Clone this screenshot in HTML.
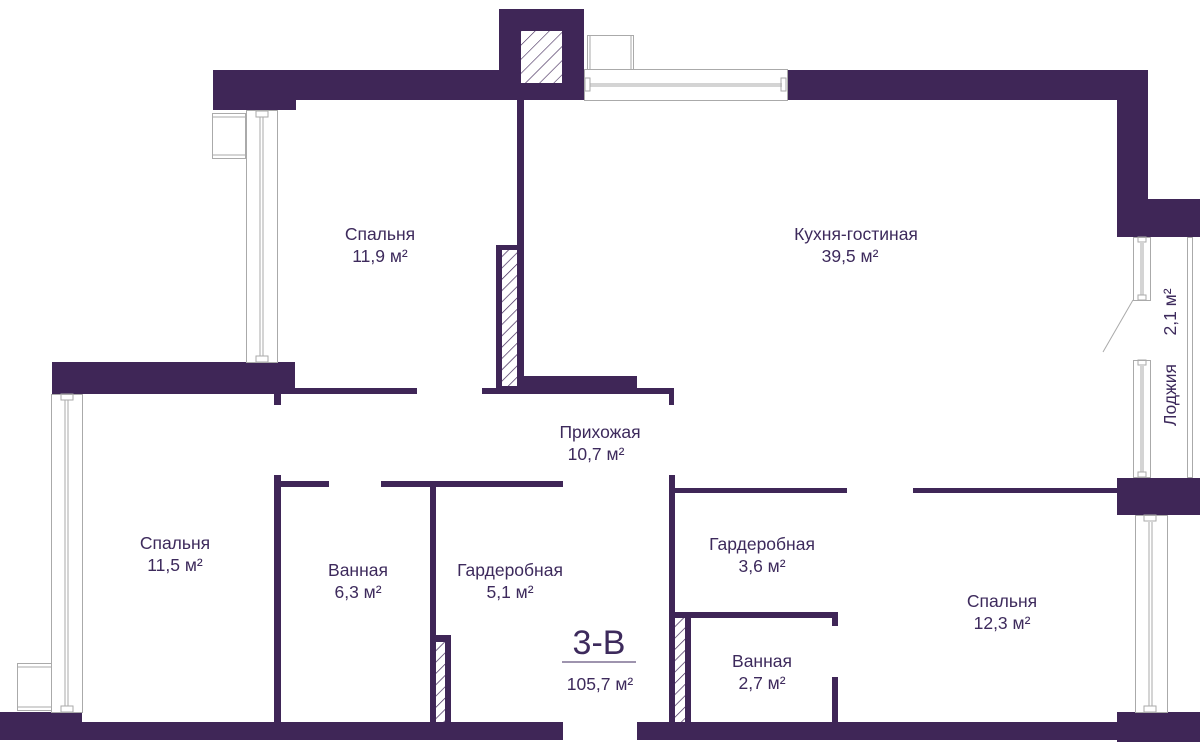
<!DOCTYPE html>
<html><head><meta charset="utf-8"><style>
html,body{margin:0;padding:0;background:#fff;}
svg{display:block}
text{font-family:"Liberation Sans","DejaVu Sans",sans-serif;fill:#3d2a5c;}
</style></head><body>
<svg width="1200" height="750" viewBox="0 0 1200 750" xmlns="http://www.w3.org/2000/svg">
<defs>
<pattern id="h" width="8" height="8" patternUnits="userSpaceOnUse" patternTransform="rotate(45)">
<rect width="8" height="8" fill="#fff"/><line x1="0" y1="0" x2="0" y2="8" stroke="#3f2657" stroke-width="1.4"/>
</pattern>
<pattern id="h2" width="10" height="10" patternUnits="userSpaceOnUse" patternTransform="rotate(45)">
<rect width="10" height="10" fill="#fff"/><line x1="0" y1="0" x2="0" y2="10" stroke="#3f2657" stroke-width="1.2"/>
</pattern>
</defs>
<g fill="#3f2657">
<rect x="213" y="70" width="83" height="40"/>
<rect x="213" y="70" width="290" height="30"/>
<rect x="499" y="9" width="85" height="91"/>
<rect x="787" y="70" width="358" height="30"/>
<rect x="1117" y="70" width="31" height="167"/>
<rect x="1117" y="199" width="83" height="38"/>
<rect x="1117" y="478" width="83" height="37"/>
<rect x="1117" y="712" width="83" height="30"/>
<rect x="0" y="712" width="82" height="28"/>
<rect x="82" y="722" width="481" height="18"/>
<rect x="637" y="722" width="480" height="18"/>
<rect x="52" y="362" width="243" height="32"/>
<rect x="517" y="100" width="7" height="288"/>
<rect x="496" y="245" width="22" height="143"/>
<rect x="523" y="376" width="114" height="12"/>
<rect x="295" y="388" width="122" height="6"/>
<rect x="482" y="388" width="192" height="6"/>
<rect x="669" y="388" width="5" height="17"/>
<rect x="274" y="388" width="7" height="17"/>
<rect x="274" y="475" width="7" height="247"/>
<rect x="274" y="481" width="55" height="6"/>
<rect x="381" y="481" width="182" height="6"/>
<rect x="430" y="481" width="6" height="241"/>
<rect x="430" y="635" width="21" height="87"/>
<rect x="669" y="475" width="6" height="247"/>
<rect x="669" y="488" width="178" height="5"/>
<rect x="913" y="488" width="204" height="5"/>
<rect x="669" y="612" width="169" height="6"/>
<rect x="832" y="612" width="6" height="14"/>
<rect x="832" y="677" width="6" height="45"/>
<rect x="669" y="612" width="22" height="110"/>
</g>
<rect x="521" y="31" width="41" height="52" fill="url(#h2)"/>
<rect x="502" y="250" width="15" height="136" fill="url(#h)"/>
<rect x="436" y="642" width="9" height="80" fill="url(#h)"/>
<rect x="675" y="618" width="10" height="104" fill="url(#h)"/>
<g fill="none" stroke="#aaa" stroke-width="1">
<rect x="584.5" y="69.5" width="203" height="31"/>
<line x1="590" y1="84" x2="782" y2="84"/><line x1="590" y1="86" x2="782" y2="86"/>
<rect x="585" y="78" width="5" height="13"/><rect x="781" y="78" width="5" height="13"/>
<rect x="587.5" y="35.5" width="46" height="34"/>
<line x1="590" y1="36" x2="590" y2="69"/><line x1="631" y1="36" x2="631" y2="69"/>
<rect x="246.5" y="110.5" width="31" height="252"/>
<line x1="260" y1="117" x2="260" y2="356"/><line x1="263" y1="117" x2="263" y2="356"/>
<rect x="256" y="111" width="12" height="6"/><rect x="256" y="356" width="12" height="6"/>
<rect x="212.5" y="113.5" width="33" height="45"/>
<line x1="213" y1="117" x2="245" y2="117"/><line x1="213" y1="155" x2="245" y2="155"/>
<rect x="51.5" y="394.5" width="31" height="318"/>
<line x1="65" y1="400" x2="65" y2="706"/><line x1="68" y1="400" x2="68" y2="706"/>
<rect x="61" y="394" width="12" height="6"/><rect x="61" y="706" width="12" height="6"/>
<rect x="17.5" y="663.5" width="34" height="47"/>
<line x1="18" y1="667" x2="51" y2="667"/><line x1="18" y1="707" x2="51" y2="707"/>
<rect x="1133.5" y="237.5" width="17" height="63"/>
<line x1="1141" y1="243" x2="1141" y2="295"/><line x1="1143" y1="243" x2="1143" y2="295"/>
<rect x="1138" y="295" width="8" height="5"/><rect x="1138" y="237" width="8" height="5"/>
<rect x="1133.5" y="360.5" width="17" height="117"/>
<line x1="1141" y1="366" x2="1141" y2="472"/><line x1="1143" y1="366" x2="1143" y2="472"/>
<rect x="1138" y="360" width="8" height="5"/><rect x="1138" y="472" width="8" height="5"/>
<rect x="1187.5" y="237.5" width="5" height="240"/>
<line x1="1133" y1="300" x2="1103" y2="352"/>
<rect x="1135.5" y="515.5" width="32" height="197"/>
<line x1="1149" y1="522" x2="1149" y2="706"/><line x1="1152" y1="522" x2="1152" y2="706"/>
<rect x="1144" y="515" width="12" height="6"/><rect x="1144" y="706" width="12" height="6"/>
</g>
<g font-size="17.5" text-anchor="middle">
<text x="380" y="240">Спальня</text>
<text x="380" y="262">11,9 м²</text>
<text x="856" y="240">Кухня-гостиная</text>
<text x="850" y="262">39,5 м²</text>
<text x="600" y="438">Прихожая</text>
<text x="596" y="460">10,7 м²</text>
<text x="175" y="549">Спальня</text>
<text x="175" y="571">11,5 м²</text>
<text x="358" y="576">Ванная</text>
<text x="358" y="598">6,3 м²</text>
<text x="510" y="576">Гардеробная</text>
<text x="510" y="598">5,1 м²</text>
<text x="762" y="550">Гардеробная</text>
<text x="762" y="572">3,6 м²</text>
<text x="1002" y="607">Спальня</text>
<text x="1002" y="629">12,3 м²</text>
<text x="762" y="667">Ванная</text>
<text x="762" y="689">2,7 м²</text>
<text x="600" y="690">105,7 м²</text>
<text x="599" y="654" font-size="34">3-В</text>
</g>
<line x1="562" y1="662" x2="636" y2="662" stroke="#3d2a5c" stroke-width="1"/>
<text font-size="17.5" text-anchor="middle" transform="translate(1176,395) rotate(-90)">Лоджия</text>
<text font-size="17.5" text-anchor="middle" transform="translate(1176,312) rotate(-90)">2,1 м²</text>
</svg>
</body></html>
